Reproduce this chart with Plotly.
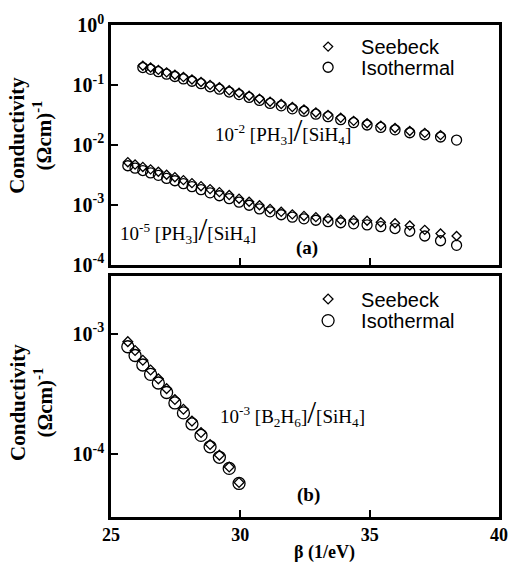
import plotly.graph_objects as go

# ---------------- data ----------------
# beta (1/eV) for the 10^-2 PH3 series (Isothermal has one more point than Seebeck)
beta_a1 = [26.23, 26.53, 26.83, 27.15, 27.47, 27.80, 28.13, 28.48, 28.83, 29.19,
           29.57, 29.95, 30.34, 30.74, 31.15, 31.58, 32.01, 32.46, 32.92, 33.39,
           33.88, 34.38, 34.90, 35.43, 35.98, 36.55, 37.13, 37.74, 38.36]
seebeck_a1 = [0.209, 0.195, 0.178, 0.162, 0.148, 0.135, 0.123, 0.112, 0.100, 0.0912,
              0.0813, 0.0741, 0.0661, 0.0589, 0.0525, 0.0479, 0.0427, 0.0389, 0.0347, 0.0316,
              0.0282, 0.0251, 0.0229, 0.0209, 0.0191, 0.0170, 0.0158, 0.0145]
iso_a1 = [0.195, 0.182, 0.166, 0.151, 0.138, 0.126, 0.115, 0.105, 0.093, 0.085,
          0.076, 0.069, 0.0617, 0.0550, 0.0490, 0.0447, 0.0398, 0.0363, 0.0324, 0.0295,
          0.0263, 0.0234, 0.0214, 0.0195, 0.0178, 0.0159, 0.0147, 0.0135, 0.0120]

# 10^-5 PH3 series
beta_a2 = [25.65, 25.93, 26.23, 26.53, 26.83, 27.15, 27.47, 27.80, 28.13, 28.48,
           28.83, 29.19, 29.57, 29.95, 30.34, 30.74, 31.15, 31.58, 32.01, 32.46,
           32.92, 33.39, 33.88, 34.38, 34.90, 35.43, 35.98, 36.55, 37.13, 37.74, 38.36]
seebeck_a2 = [5.13e-3, 4.68e-3, 4.27e-3, 3.89e-3, 3.55e-3, 3.16e-3, 2.88e-3, 2.57e-3, 2.29e-3, 2.04e-3,
              1.82e-3, 1.62e-3, 1.45e-3, 1.26e-3, 1.12e-3, 9.8e-4, 8.5e-4, 7.6e-4, 6.9e-4, 6.5e-4,
              6.2e-4, 5.9e-4, 5.6e-4, 5.5e-4, 5.4e-4, 5.1e-4, 4.9e-4, 4.5e-4, 3.8e-4, 3.3e-4, 3.0e-4]
iso_a2 = [4.47e-3, 4.07e-3, 3.72e-3, 3.39e-3, 3.09e-3, 2.75e-3, 2.51e-3, 2.24e-3, 2.00e-3, 1.78e-3,
          1.58e-3, 1.41e-3, 1.26e-3, 1.10e-3, 9.8e-4, 8.5e-4, 7.6e-4, 6.8e-4, 6.2e-4, 5.8e-4,
          5.5e-4, 5.2e-4, 5.0e-4, 4.8e-4, 4.6e-4, 4.3e-4, 4.0e-4, 3.6e-4, 3.0e-4, 2.5e-4, 2.1e-4]

# 10^-3 B2H6 series
beta_b = [25.65, 25.93, 26.23, 26.53, 26.83, 27.15, 27.47, 27.80, 28.13, 28.48,
          28.83, 29.19, 29.57, 29.95]
seebeck_b = [8.6e-4, 7.26e-4, 6.03e-4, 5.0e-4, 4.22e-4, 3.50e-4, 2.84e-4, 2.36e-4, 1.88e-4, 1.51e-4,
             1.20e-4, 9.8e-5, 7.8e-5, 5.8e-5]
iso_b = [7.8e-4, 6.6e-4, 5.5e-4, 4.6e-4, 3.9e-4, 3.25e-4, 2.66e-4, 2.2e-4, 1.78e-4, 1.43e-4,
         1.15e-4, 9.4e-5, 7.6e-5, 5.7e-5]

x_ticks = [25, 30, 35, 40]
x_ticklabels = ["25", "30", "35", "40"]
ya_ticks = [1, 0.1, 0.01, 1e-3, 1e-4]
ya_ticklabels = ["10<sup>0</sup>", "10<sup>-1</sup>", "10<sup>-2</sup>", "10<sup>-3</sup>", "10<sup>-4</sup>"]
yb_ticks = [1e-3, 1e-4]
yb_ticklabels = ["10<sup>-3</sup>", "10<sup>-4</sup>"]

# ---------------- figure ----------------
SERIF = "Liberation Serif"
SANS = "Liberation Sans"
diamond = dict(symbol="diamond-open", size=7, color="black", line=dict(width=1.3, color="black"))
circle = dict(symbol="circle-open", size=10, color="black", line=dict(width=1.3, color="black"))
diamond_b = dict(symbol="diamond-open", size=7.5, color="black", line=dict(width=1.3, color="black"))
circle_b = dict(symbol="circle-open", size=12, color="black", line=dict(width=1.3, color="black"))

fig = go.Figure()
fig.add_trace(go.Scatter(x=beta_a1[:len(seebeck_a1)], y=seebeck_a1, mode="markers", marker=diamond,
                         name="Seebeck", legend="legend", xaxis="x", yaxis="y"))
fig.add_trace(go.Scatter(x=beta_a1, y=iso_a1, mode="markers", marker=circle,
                         name="Isothermal", legend="legend2", xaxis="x", yaxis="y"))
fig.add_trace(go.Scatter(x=beta_a2, y=seebeck_a2, mode="markers", marker=diamond,
                         showlegend=False, xaxis="x", yaxis="y"))
fig.add_trace(go.Scatter(x=beta_a2, y=iso_a2, mode="markers", marker=circle,
                         showlegend=False, xaxis="x", yaxis="y"))
fig.add_trace(go.Scatter(x=beta_b, y=seebeck_b, mode="markers", marker=diamond_b,
                         name="Seebeck", legend="legend3", xaxis="x2", yaxis="y2"))
fig.add_trace(go.Scatter(x=beta_b, y=iso_b, mode="markers", marker=circle_b,
                         name="Isothermal", legend="legend4", xaxis="x2", yaxis="y2"))

axis_common = dict(showgrid=False, zeroline=False, showline=True, linecolor="black", linewidth=2.6,
                   mirror=True, ticks="inside", tickcolor="black", tickwidth=1.5, ticklen=7)
xtickfont = dict(family=SERIF, size=18, color="black")
ytickfont = dict(family=SERIF, size=20, color="black")

H = 501.0  # plot-area height in px
def py(pix):
    return (517 - pix) / H

LX = (297 - 111) / 392.0
leg_common = dict(xanchor="left", yanchor="middle", bgcolor="rgba(0,0,0,0)",
                  itemwidth=56, font=dict(family=SANS, size=20, color="black"))

fig.update_layout(
    width=520, height=571,
    margin=dict(l=111, r=17, t=16, b=54),
    paper_bgcolor="white", plot_bgcolor="white",
    xaxis=dict(domain=[0, 1], range=[25, 40], anchor="y", tickvals=x_ticks,
               showticklabels=False, **axis_common),
    yaxis=dict(domain=[0.513, 1], type="log", range=[-4, 0], anchor="x", tickvals=ya_ticks,
               ticktext=["<b>%s</b>" % t for t in ya_ticklabels], tickfont=ytickfont, **axis_common),
    xaxis2=dict(domain=[0, 1], range=[25, 40], anchor="y2", tickvals=x_ticks,
                ticktext=["<b>%s</b>" % t for t in x_ticklabels], tickfont=xtickfont, **axis_common),
    yaxis2=dict(domain=[0, 0.489], type="log", range=[-4.523, -2.523], anchor="x2", tickvals=yb_ticks,
                ticktext=["<b>%s</b>" % t for t in yb_ticklabels], tickfont=ytickfont, **axis_common),
    legend=dict(x=LX, y=py(38), **leg_common),
    legend2=dict(x=LX, y=py(59), **leg_common),
    legend3=dict(x=LX, y=py(295), **leg_common),
    legend4=dict(x=LX, y=py(317), **leg_common),
)

slash = "<span style='font-size:32px'>/</span>"
ann_font = dict(family=SERIF, size=19, color="black")
title_font = dict(family=SERIF, size=21, color="black")
annotations = [
    dict(text="<b>Conductivity<br>(Ωcm)<sup>-1</sup></b>", xref="paper", yref="paper",
         x=(30 - 111) / 392.0, y=py(128), xanchor="center", yanchor="middle", textangle=-90,
         showarrow=False, font=title_font),
    dict(text="<b>Conductivity<br>(Ωcm)<sup>-1</sup></b>", xref="paper", yref="paper",
         x=(30 - 111) / 392.0, y=py(400), xanchor="center", yanchor="middle", textangle=-90,
         showarrow=False, font=title_font),
    dict(text="10<sup>-2</sup> [PH<sub>3</sub>]" + slash + "[SiH<sub>4</sub>]", xref="x", yref="y",
         x=31.65, y=-1.75, xanchor="center", yanchor="middle", showarrow=False, font=ann_font),
    dict(text="10<sup>-5</sup> [PH<sub>3</sub>]" + slash + "[SiH<sub>4</sub>]", xref="x", yref="y",
         x=27.98, y=-3.40, xanchor="center", yanchor="middle", showarrow=False, font=ann_font),
    dict(text="<b>(a)</b>", xref="x", yref="y", x=32.58, y=-3.72, xanchor="center", yanchor="middle",
         showarrow=False, font=dict(family=SERIF, size=19, color="black")),
    dict(text="10<sup>-3</sup> [B<sub>2</sub>H<sub>6</sub>]" + slash + "[SiH<sub>4</sub>]", xref="x2", yref="y2",
         x=32.0, y=-3.65, xanchor="center", yanchor="middle", showarrow=False, font=ann_font),
    dict(text="<b>(b)</b>", xref="x2", yref="y2", x=32.65, y=-4.34, xanchor="center", yanchor="middle",
         showarrow=False, font=dict(family=SERIF, size=19, color="black")),
    dict(text="<b>β (1/eV)</b>", xref="paper", yref="paper", x=(327 - 111) / 392.0, y=py(553),
         xanchor="center", yanchor="middle", showarrow=False,
         font=dict(family=SERIF, size=18, color="black")),
]
fig.update_layout(annotations=annotations)

fig.write_html("out.html")
